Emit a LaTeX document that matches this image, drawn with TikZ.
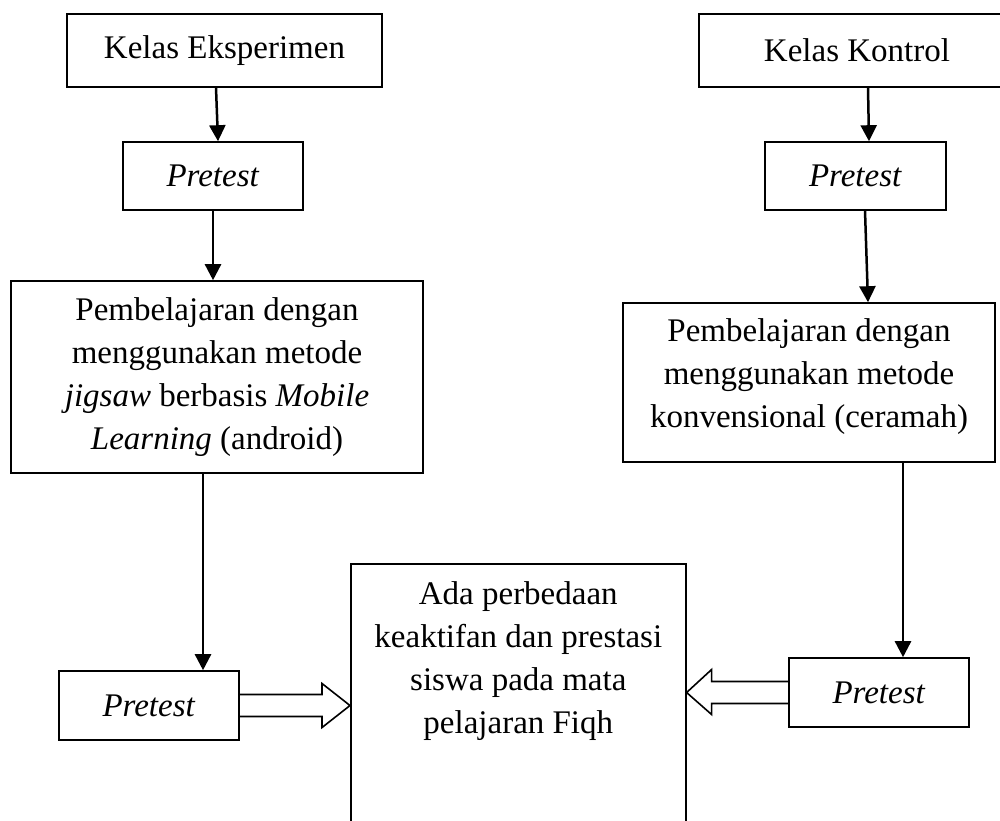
\documentclass[tikz,border=0pt]{standalone}
\usepackage{fontspec}
\setmainfont{Liberation Serif}
\usetikzlibrary{arrows.meta,calc}
\begin{document}
\begin{tikzpicture}[x=1pt,y=-1pt,
  box/.style={draw,line width=1.6pt,inner sep=0pt,font=\fontsize{33pt}{43pt}\selectfont},
  arr/.style={line width=2.5pt,-{Triangle[length=16pt,width=16pt]}},
  fat/.style={line width=1.6pt,line join=miter}]
\useasboundingbox (0,0) rectangle (1000,820);
\clip (0,0) rectangle (1000,820);
\fill[white] (0,0) rectangle (1000,820);
% top boxes
\node[box,minimum width=315pt,minimum height=73pt] (ke) at (224.5,50.5) {Kelas Eksperimen};
\node[box,minimum width=316pt,minimum height=73pt] (kk) at (857,50.5) {Kelas Kontrol};
\node[box,minimum width=180pt,minimum height=68pt] (plt) at (213,176) {\textit{Pretest}};
\node[box,minimum width=181pt,minimum height=68pt] (prt) at (855.5,176) {\textit{Pretest}};
% big boxes
\node[box] (bl) at (217,377) {\parbox[c][192pt][c]{412pt}{\centering Pembelajaran dengan\\ menggunakan metode\\ \textit{jigsaw} berbasis \textit{Mobile}\\ \textit{Learning} (android)}};
\node[box] (br) at (809,382.5) {\parbox[c][159pt][c]{372pt}{\centering Pembelajaran dengan\\ menggunakan metode\\ konvensional (ceramah)\par\vspace{12pt}}};
% center box
\node[box,anchor=north west] (cen) at (350,563) {\parbox[c][340pt][t]{335pt}{\centering\vspace*{18pt}Ada perbedaan\\ keaktifan dan prestasi\\ siswa pada mata\\ pelajaran Fiqh}};
% bottom pretests
\node[box,minimum width=180pt,minimum height=69pt] (plb) at (149,705.5) {\textit{Pretest}};
\node[box,minimum width=180pt,minimum height=69pt] (prb) at (879,692.5) {\textit{Pretest}};
% single arrows
\draw[arr] ($(ke.south)+(-8.5,0)$) -- ($(plt.north)+(5,0)$);
\draw[arr] (plt.south) -- (plt.south |- bl.north);
\draw[arr] ($(kk.south)+(11,0)$) -- ($(prt.north)+(13.5,0)$);
\draw[arr] ($(prt.south)+(9.5,0)$) -- ($(br.north)+(59,0)$);
\draw[arr] ($(bl.south)+(-14,0)$) coordinate (a5) -- (a5 |- plb.north);
\draw[arr] ($(br.south)+(94,0)$) -- ($(prb.north)+(24,0)$);
% block arrows
\coordinate (LA) at (plb.east);
\coordinate (LT) at (plb.east -| cen.west);
\draw[fat] ($(LA)+(0,-11)$) -- ($(LT)+(-28,-11)$) -- ($(LT)+(-28,-22)$) -- (LT) -- ($(LT)+(-28,22)$) -- ($(LT)+(-28,11)$) -- ($(LA)+(0,11)$);
\coordinate (RA) at (prb.west);
\coordinate (RT) at (prb.west -| cen.east);
\draw[fat] ($(RA)+(0,-11)$) -- ($(RT)+(25,-11)$) -- ($(RT)+(25,-23)$) -- (RT) -- ($(RT)+(25,22)$) -- ($(RT)+(25,11)$) -- ($(RA)+(0,11)$);
\end{tikzpicture}
\end{document}
